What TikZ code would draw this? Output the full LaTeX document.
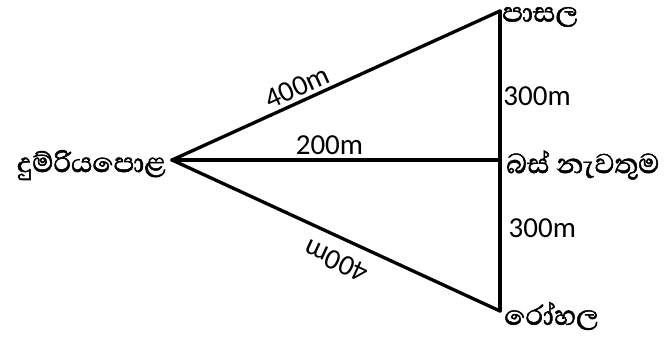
\documentclass[tikz,border=0pt]{standalone}
\usepackage{fontspec}
\setmainfont{Carlito}
\newfontfamily\sinhala[Script=Sinhala, FakeBold=1.6]{Abhaya Libre}
\begin{document}
\begin{tikzpicture}[x=0.02cm, y=-0.02cm,
    road/.style={line width=1.9pt, line cap=round, line join=round},
    dist/.style={font=\fontsize{16.5}{18}\selectfont, inner sep=2pt},
    place/.style={font=\sinhala\fontsize{20}{22}\selectfont, inner sep=0pt}]
    \useasboundingbox (0,0) rectangle (670,336);
    \coordinate (st) at (172,160);
    \coordinate (sc) at (500,11);
    \coordinate (bus) at (500,160);
    \coordinate (hos) at (500,311);
    \node[place, anchor=east] (stname) at (166,165) {දුම්රියපොළ};
    \node[place, anchor=west] (scname) at (502,17) {පාසල};
    \node[place, anchor=west] (busname) at (506,165) {බස් නැවතුම};
    \node[place, anchor=west] (hosname) at (504,316) {රෝහල};
    \draw[road] (st) -- node[dist, pos=0.4, above, sloped] {400m} (sc);
    \draw[road] (st) -- node[dist, pos=0.48, above] {200m} (bus);
    \draw[road, allow upside down] (hos) -- node[dist, pos=0.47, above, sloped, inner sep=7pt] {400m} (st);
    \draw[road] (sc) -- node[dist, pos=0.57, right, inner sep=1pt] {300m} (bus);
    \draw[road] (bus) -- node[dist, pos=0.45, right, inner sep=4pt] {300m} (hos);
\end{tikzpicture}
\end{document}
